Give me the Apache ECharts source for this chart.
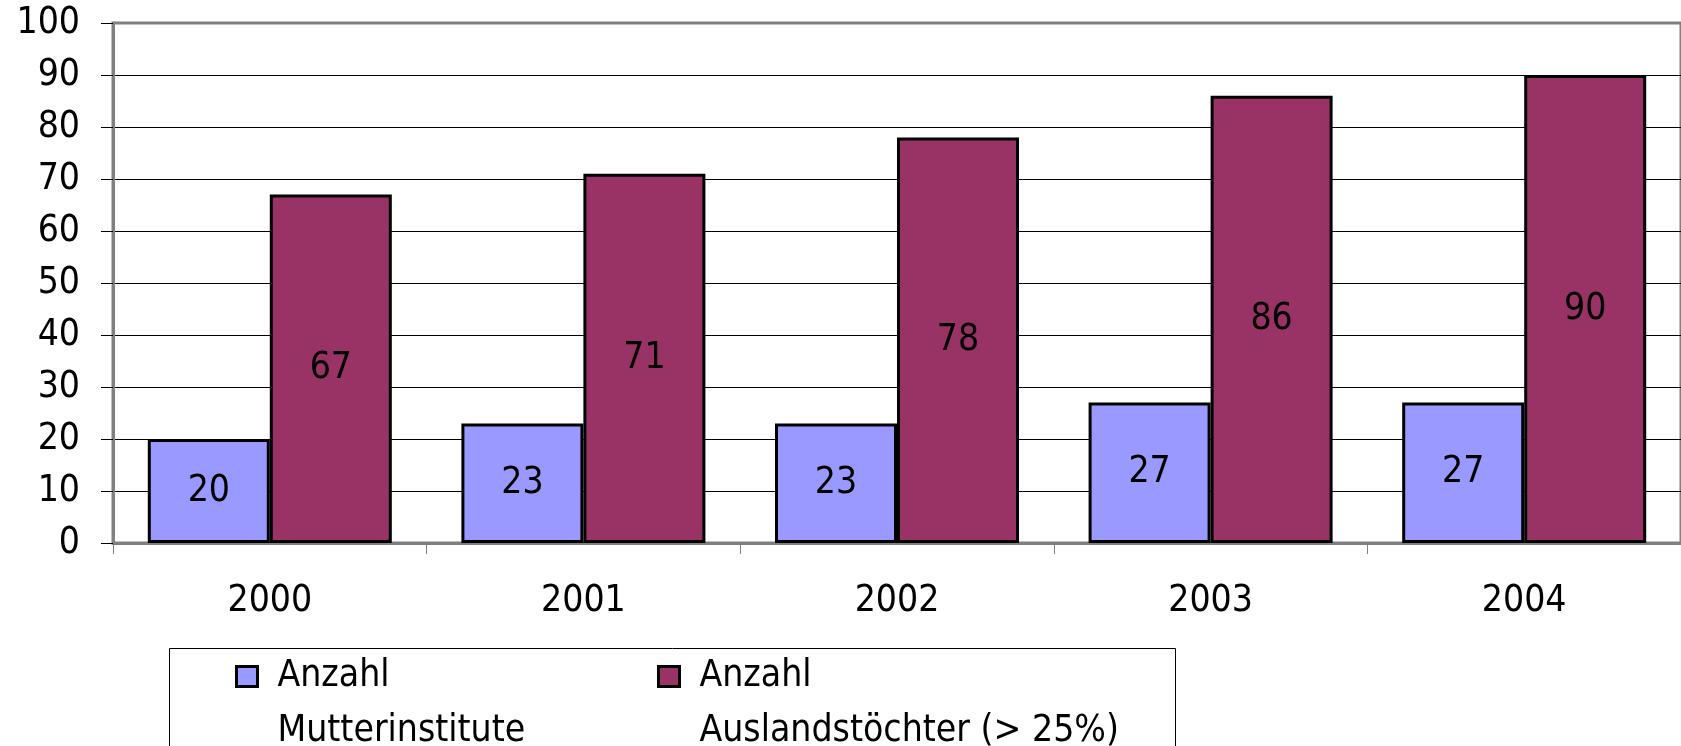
<!DOCTYPE html>
<html>
<head>
<meta charset="utf-8">
<script src="https://cdn.jsdelivr.net/npm/echarts@6/dist/echarts.min.js"></script>
<style>
  html, body { margin: 0; padding: 0; background: #ffffff; }
  #chart { width: 1681px; height: 746px; }
</style>
</head>
<body>
<div id="chart"></div>
<script>
// Jahre
const categories = ['2000', '2001', '2002', '2003', '2004'];
// Anzahl Mutterinstitute
const mutterinstitute = [20, 23, 23, 27, 27];
// Anzahl Auslandstöchter (> 25%)
const auslandstoechter = [67, 71, 78, 86, 90];
const seriesNames = ['Anzahl\nMutterinstitute', 'Anzahl\nAuslandstöchter (> 25%)'];

const FONT = '"DejaVu Sans Condensed", "DejaVu Sans", sans-serif';
const FS = 37;
const chart = echarts.init(document.getElementById('chart'), null, { renderer: 'canvas' });

// a blank first line keeps the icon level with the word "Anzahl"
const legendText = {
  fontFamily: FONT,
  fontSize: FS,
  color: '#000',
  lineHeight: 55,
  padding: [0, 0, 0, 15]
};
const legendFormatter = name => '\n' + name;
const legendIconStyle = { borderColor: '#000', borderWidth: 3 };

const barLabel = {
  show: true,
  position: 'inside',
  fontFamily: FONT,
  fontSize: FS,
  color: '#000'
};

chart.setOption({
  animation: false,
  backgroundColor: '#ffffff',
  grid: {
    left: 113, top: 23, width: 1585, height: 520,
    show: true, borderColor: '#808080', borderWidth: 3
  },
  graphic: [{
    type: 'rect',
    z: 0,
    shape: { x: 169.5, y: 648.5, width: 1006, height: 200 },
    style: { fill: 'none', stroke: '#000', lineWidth: 1 }
  }],
  legend: [{
    data: [seriesNames[0]],
    left: 235, top: 594, padding: 0,
    icon: 'rect',
    itemWidth: 21, itemHeight: 20,
    itemStyle: legendIconStyle,
    selectedMode: false,
    formatter: legendFormatter,
    textStyle: legendText
  }, {
    data: [seriesNames[1]],
    left: 657, top: 594, padding: 0,
    icon: 'rect',
    itemWidth: 21, itemHeight: 20,
    itemStyle: legendIconStyle,
    selectedMode: false,
    formatter: legendFormatter,
    textStyle: legendText
  }],
  xAxis: {
    type: 'category',
    data: categories,
    axisLine: { lineStyle: { color: '#808080', width: 3 } },
    axisTick: { show: true, length: 11, lineStyle: { color: '#808080', width: 1 } },
    axisLabel: { fontFamily: FONT, fontSize: FS, color: '#000', margin: 40 },
    splitLine: { show: false }
  },
  yAxis: {
    type: 'value',
    min: 0, max: 100, interval: 10,
    axisLine: { show: true, lineStyle: { color: '#808080', width: 3 } },
    axisTick: { show: true, length: 12, lineStyle: { color: '#000', width: 1 } },
    axisLabel: { fontFamily: FONT, fontSize: FS, color: '#000', margin: 33 },
    splitLine: { show: true, showMaxLine: false, showMinLine: false, lineStyle: { color: '#000', width: 1 } }
  },
  series: [{
    name: seriesNames[0],
    type: 'bar',
    data: mutterinstitute,
    barWidth: 122,
    barGap: '0%',
    itemStyle: { color: '#9999FF', borderColor: '#000', borderWidth: 3 },
    label: barLabel
  }, {
    name: seriesNames[1],
    type: 'bar',
    data: auslandstoechter,
    barWidth: 122,
    barGap: '0%',
    itemStyle: { color: '#993366', borderColor: '#000', borderWidth: 3 },
    label: barLabel
  }]
});
</script>
</body>
</html>
